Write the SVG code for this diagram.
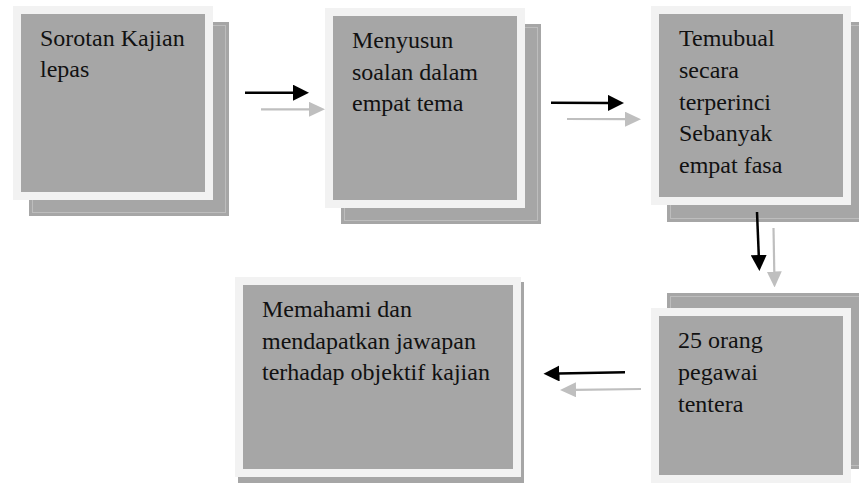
<svg xmlns="http://www.w3.org/2000/svg" width="859" height="483" viewBox="0 0 859 483">
<defs>
<style>
.shadow{fill:#a6a6a6;}
.sline{fill:none;stroke:#bdbdbd;stroke-width:1;}
.box{fill:#a6a6a6;stroke:#f2f2f2;stroke-width:8;}
.t{font-size:24px;fill:#111;}
.cb{stroke:#000;stroke-width:2.5;fill:none;}
.cg{stroke:#bfbfbf;stroke-width:2.2;fill:none;}
</style>
<marker id="hb" viewBox="0 0 16 16" refX="1" refY="8" markerWidth="16" markerHeight="16" markerUnits="userSpaceOnUse" orient="auto">
<path d="M0,0 L16,8 L0,16 Z" fill="#000"/>
</marker>
<marker id="hg" viewBox="0 0 16 16" refX="1" refY="8" markerWidth="16" markerHeight="15" markerUnits="userSpaceOnUse" orient="auto" preserveAspectRatio="none">
<path d="M0,0 L16,8 L0,16 Z" fill="#bfbfbf"/>
</marker>
</defs>
<rect width="859" height="483" fill="#fff"/>

<g font-family="Liberation Serif, Tinos, DejaVu Serif, serif">
<g id="node1">
<rect class="shadow" x="29" y="22" width="200" height="194"/>
<rect class="sline" x="32.5" y="25.5" width="193" height="187"/>
<rect class="box" x="17" y="10" width="192" height="186"/>
<text class="t" x="40" y="45.7">Sorotan Kajian</text>
<text class="t" x="40" y="77.3">lepas</text>
</g>

<g id="node2">
<rect class="shadow" x="341" y="24" width="200" height="200"/>
<rect class="sline" x="344.5" y="27.5" width="193" height="193"/>
<rect class="box" x="329" y="12" width="192" height="192"/>
<text class="t" x="352" y="47.7">Menyusun</text>
<text class="t" x="352" y="79.5">soalan dalam</text>
<text class="t" x="352" y="111">empat tema</text>
</g>

<g id="node3">
<rect class="shadow" x="667" y="22" width="200" height="200"/>
<rect class="sline" x="670.5" y="25.5" width="193" height="193"/>
<rect class="box" x="655" y="10" width="192" height="191"/>
<text class="t" x="679" y="45.7">Temubual</text>
<text class="t" x="679" y="77.8">secara</text>
<text class="t" x="679" y="109.6">terperinci</text>
<text class="t" x="679" y="141.4">Sebanyak</text>
<text class="t" x="679" y="173.2">empat fasa</text>
</g>

<g id="node4">
<rect class="shadow" x="667" y="293" width="200" height="176"/>
<rect class="sline" x="670.5" y="296.5" width="193" height="169"/>
<rect class="box" x="655" y="312" width="192" height="167"/>
<text class="t" x="678" y="348">25 orang</text>
<text class="t" x="678" y="380">pegawai</text>
<text class="t" x="678" y="411.7">tentera</text>
</g>

<g id="node5">
<rect class="shadow" x="238" y="282" width="286" height="204"/>
<rect class="box" x="239" y="281" width="278" height="192"/>
<text class="t" x="262" y="316.7">Memahami dan</text>
<text class="t" x="262" y="348.5">mendapatkan jawapan</text>
<text class="t" x="262" y="380">terhadap objektif kajian</text>
</g>
</g>

<g id="connectors">
<line class="cb" x1="245" y1="92.7" x2="294" y2="92.7" marker-end="url(#hb)"/>
<line class="cg" x1="261" y1="109.3" x2="310" y2="109.3" marker-end="url(#hg)"/>
<line class="cb" x1="551" y1="102.7" x2="609" y2="102.9" marker-end="url(#hb)"/>
<line class="cg" x1="567" y1="119" x2="626" y2="119.2" marker-end="url(#hg)"/>
<line class="cb" x1="757" y1="212" x2="758.8" y2="256" marker-end="url(#hb)"/>
<line class="cg" x1="773.5" y1="228" x2="774.3" y2="272.5" marker-end="url(#hg)"/>
<line class="cb" x1="625" y1="372.3" x2="558.5" y2="373.5" marker-end="url(#hb)"/>
<line class="cg" x1="641" y1="389" x2="575" y2="389.8" marker-end="url(#hg)"/>
</g>
</svg>
